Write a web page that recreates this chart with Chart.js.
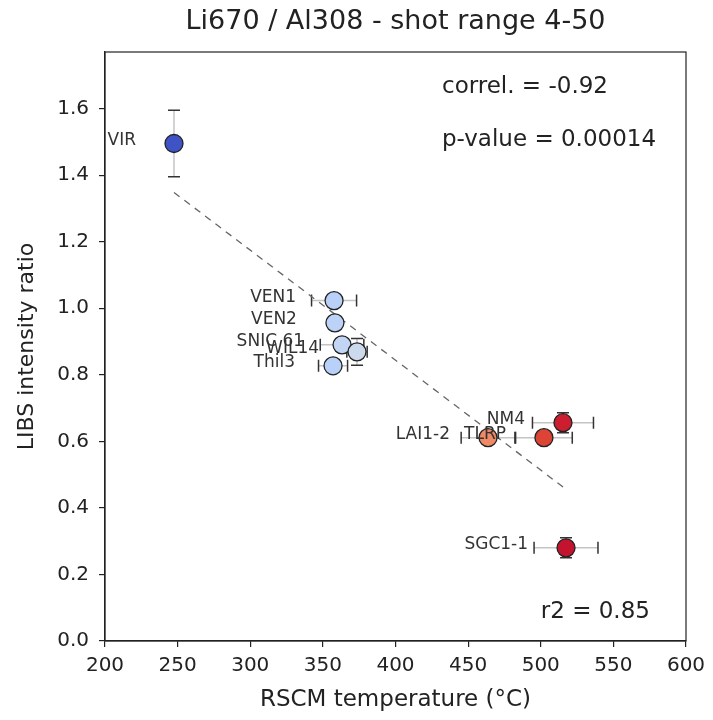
<!DOCTYPE html>
<html>
<head>
<meta charset="utf-8">
<script src="https://cdn.jsdelivr.net/npm/chart.js@4.4.0/dist/chart.umd.min.js"></script>
<style>
  html, body { margin: 0; padding: 0; background: #fff; }
</style>
</head>
<body>
<canvas id="scatterChart" width="713" height="720" style="width:713px;height:720px"></canvas>
<script>
// values
const sampleNames = ["VIR", "VEN1", "VEN2", "SNIC 61", "WIL14", "Thil3", "LAI1-2", "TLRP", "NM4", "SGC1-1"];
const rscmTemp  = [247.5, 357.7, 358.3, 363.2, 373.5, 357.0, 463.7, 502.2, 515.3, 517.4];
const tempErr   = [0, 15.5, 3, 15, 7, 10, 18.5, 19.5, 21, 22];
const libsRatio = [1.495, 1.023, 0.956, 0.890, 0.869, 0.827, 0.611, 0.611, 0.656, 0.280];
const ratioErr  = [0.10, 0.01, 0.02, 0.02, 0.04, 0.01, 0.01, 0.02, 0.03, 0.03];
const fitX = [247.5, 517.4];
const fitY = [1.348, 0.456];
const xTicks = [200, 250, 300, 350, 400, 450, 500, 550, 600];
const yTicks = [0.0, 0.2, 0.4, 0.6, 0.8, 1.0, 1.2, 1.4, 1.6];
const statTexts = ["correl. = -0.92", "p-value = 0.00014", "r2 = 0.85"];

// coolwarm-ish colours per sample
const pointColors = ["#3f53c6", "#b9d0f8", "#bcd2f7", "#c2d5f4", "#cdd9ec", "#b9d0f8",
                     "#f08a66", "#dc4535", "#cc1d31", "#c4132e"];

const FONT = "'DejaVu Sans', sans-serif";

const errorBars = {
    id: "errorBars",
    beforeDatasetsDraw(chart) {
        const ctx = chart.ctx;
        const xs = chart.scales.x, ys = chart.scales.y;
        const cap = 6;
        ctx.save();
        for (let i = 0; i < rscmTemp.length; i++) {
            const px = xs.getPixelForValue(rscmTemp[i]);
            const py = ys.getPixelForValue(libsRatio[i]);
            const x0 = xs.getPixelForValue(rscmTemp[i] - tempErr[i]);
            const x1 = xs.getPixelForValue(rscmTemp[i] + tempErr[i]);
            const y0 = ys.getPixelForValue(libsRatio[i] - ratioErr[i]);
            const y1 = ys.getPixelForValue(libsRatio[i] + ratioErr[i]);
            ctx.lineWidth = 1.5;
            ctx.strokeStyle = "#c4c4c4";
            ctx.beginPath();
            ctx.moveTo(x0, py); ctx.lineTo(x1, py);
            ctx.moveTo(px, y0); ctx.lineTo(px, y1);
            ctx.stroke();
            ctx.strokeStyle = "#333";
            ctx.beginPath();
            if (tempErr[i] > 0) {
                ctx.moveTo(x0, py - cap); ctx.lineTo(x0, py + cap);
                ctx.moveTo(x1, py - cap); ctx.lineTo(x1, py + cap);
            }
            ctx.moveTo(px - cap, y0); ctx.lineTo(px + cap, y0);
            ctx.moveTo(px - cap, y1); ctx.lineTo(px + cap, y1);
            ctx.stroke();
        }
        ctx.restore();
    }
};

const textLayer = {
    id: "textLayer",
    afterDatasetsDraw(chart) {
        const ctx = chart.ctx;
        const a = chart.chartArea;
        const xs = chart.scales.x, ys = chart.scales.y;
        ctx.save();
        // frame
        ctx.strokeStyle = "#222";
        ctx.lineWidth = 1.2;
        ctx.strokeRect(a.left, a.top, a.right - a.left, a.bottom - a.top);

        // sample labels
        ctx.fillStyle = "#333";
        ctx.font = "17px " + FONT;
        ctx.textAlign = "right";
        ctx.textBaseline = "middle";
        for (let i = 0; i < sampleNames.length; i++) {
            const px = xs.getPixelForValue(rscmTemp[i]);
            const py = ys.getPixelForValue(libsRatio[i]);
            ctx.fillText(sampleNames[i], px - 38, py - 3);
        }

        // stats
        const w = a.right - a.left, h = a.bottom - a.top;
        ctx.fillStyle = "#222";
        ctx.font = "23px " + FONT;
        ctx.textAlign = "left";
        ctx.fillText(statTexts[0], a.left + 0.58 * w, a.bottom - 0.94 * h);
        ctx.fillText(statTexts[1], a.left + 0.58 * w, a.bottom - 0.85 * h);
        ctx.fillText(statTexts[2], a.left + 0.75 * w, a.bottom - 0.05 * h);

        // title
        ctx.font = "27px " + FONT;
        ctx.textAlign = "center";
        ctx.fillText("Li670 / Al308 - shot range 4-50", (a.left + a.right) / 2, 22);
        ctx.restore();
    }
};

const ctx = document.getElementById("scatterChart").getContext("2d");
new Chart(ctx, {
    type: "scatter",
    data: {
        datasets: [
            {
                label: "samples",
                data: rscmTemp.map((t, i) => ({ x: t, y: libsRatio[i] })),
                backgroundColor: pointColors,
                borderColor: "#222",
                borderWidth: 1.3,
                pointRadius: 9,
                pointHoverRadius: 9,
                order: 0
            },
            {
                type: "line",
                label: "fit",
                data: fitX.map((t, i) => ({ x: t, y: fitY[i] })),
                borderColor: "#666",
                borderWidth: 1.3,
                borderDash: [7, 6],
                pointRadius: 0,
                fill: false,
                order: 1
            }
        ]
    },
    options: {
        responsive: false,
        animation: false,
        layout: { padding: { top: 52, right: 27, left: 0, bottom: 0 } },
        plugins: {
            legend: { display: false },
            tooltip: { enabled: false }
        },
        scales: {
            x: {
                type: "linear",
                min: 200,
                max: 600,
                afterBuildTicks: (s) => { s.ticks = xTicks.map(v => ({ value: v })); },
                afterFit: (s) => { s.height = 79; },
                grid: { drawOnChartArea: false, drawTicks: true, tickLength: 6, color: "#222", lineWidth: 1.2 },
                border: { display: true, color: "#222", width: 1.2 },
                ticks: { color: "#222", font: { family: FONT, size: 20 }, padding: 7, maxRotation: 0 },
                title: { display: true, text: "RSCM temperature (°C)", color: "#222",
                         font: { family: FONT, size: 23 }, padding: { top: 0, bottom: 6 } }
            },
            y: {
                type: "linear",
                min: 0,
                max: 1.77,
                afterBuildTicks: (s) => { s.ticks = yTicks.map(v => ({ value: v })); },
                afterFit: (s) => { s.width = 105; },
                grid: { drawOnChartArea: false, drawTicks: true, tickLength: 6, color: "#222", lineWidth: 1.2 },
                border: { display: true, color: "#222", width: 1.2 },
                ticks: { color: "#222", font: { family: FONT, size: 20 }, padding: 10,
                         callback: (v) => v.toFixed(1) },
                title: { display: true, text: "LIBS intensity ratio", color: "#222",
                         font: { family: FONT, size: 22 }, padding: { top: 14, bottom: 0 } }
            }
        }
    },
    plugins: [errorBars, textLayer]
});
</script>
</body>
</html>
